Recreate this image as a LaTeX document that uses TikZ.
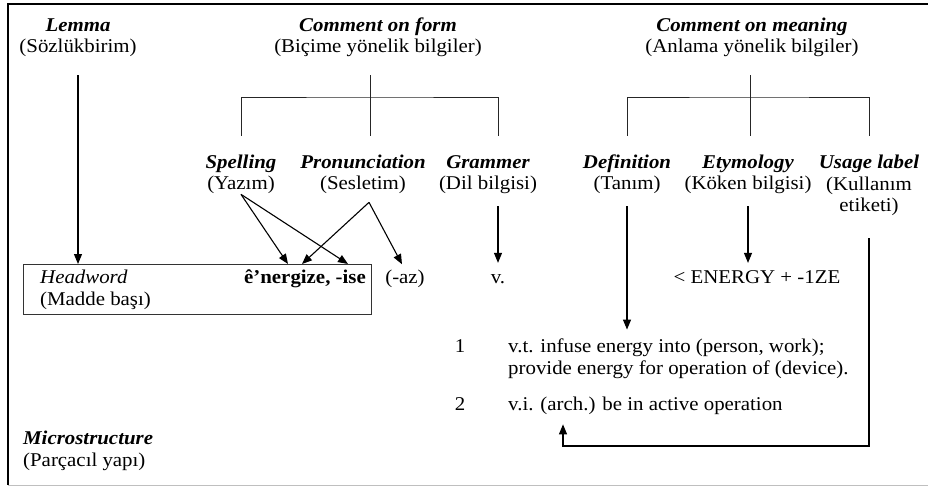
\documentclass[tikz,border=0pt]{standalone}
\usepackage{fontspec}
\setmainfont{Liberation Serif}[FakeStretch=1.07]
\usetikzlibrary{arrows.meta}

\newcommand{\term}[1]{{\bfseries\itshape #1}}

\tikzset{
    heading/.style = {
        align=center,
        inner sep=0pt,
        anchor=base
    },
    entry/.style = {
        inner sep=0pt,
        anchor=base
    },
    bracket/.style = {
        line width=0.9pt,
        black!85
    },
    pointer/.style = {
        line width=1.1pt,
        -{Triangle[length=10pt,width=8pt]}
    },
    hwframe/.style = {
        draw,
        line width=1.2pt,
        black!80,
        inner sep=0pt
    }
}

\begin{document}
\begin{tikzpicture}[x=1pt, y=-1pt, font=\fontsize{19.5}{21.5}\selectfont]
    \useasboundingbox (0,0) rectangle (928,486);

    % Frame
    \draw[line width=1.5pt] (928,4) -- (8,4) -- (8,485);
    \draw[black!25] (8,485) -- (928,485);

    % Draw top headings
    \node[heading] (lemma)   at (78,53)  {\term{Lemma}\\(Sözlükbirim)};
    \node[heading] (form)    at (378,53) {\term{Comment on form}\\(Biçime yönelik bilgiler)};
    \node[heading] (meaning) at (752,53) {\term{Comment on meaning}\\(Anlama yönelik bilgiler)};

    % Draw sub headings
    \node[heading] (spelling)      at (241,190) {\term{Spelling}\\(Yazım)};
    \node[heading] (pronunciation) at (363,190) {\term{Pronunciation}\\(Sesletim)};
    \node[heading] (grammer)       at (488,190) {\term{Grammer}\\(Dil bilgisi)};
    \node[heading] (definition)    at (627,190) {\term{Definition}\\(Tanım)};
    \node[heading] (etymology)     at (748,190) {\term{Etymology}\\(Köken bilgisi)};
    \node[heading] (usage)         at (869,212) {\term{Usage label}\\(Kullanım\\etiketi)};

    % Draw entry
    \node[hwframe, anchor=north west, minimum width=348pt, minimum height=50pt] (hwbox) at (23,264) {};
    \node[entry, anchor=base west, align=left] (headword) at (40,305) {\textit{Headword}\\(Madde başı)};
    \node[entry, anchor=base east] (lemmaform) at (366,283) {\bfseries ê’nergize, -ise};
    \node[entry] (az)     at (405,283) {(-az)};
    \node[entry] (pos)    at (498,283) {v.};
    \node[entry] (origin) at (757,283) {< ENERGY + -1ZE};
    \node[entry] (num1)   at (460,352) {1};
    \node[entry, anchor=base west, align=left] (sense1) at (508,374) {v.t. infuse energy into (person, work);\\provide energy for operation of (device).};
    \node[entry] (num2)   at (460,410) {2};
    \node[entry, anchor=base west] (sense2) at (508,410) {v.i. (arch.) be in active operation};
    \node[entry, anchor=base west, align=left] (micro) at (23,466) {\term{Microstructure}\\(Parçacıl yapı)};

    % Draw brackets
    \coordinate (formbar) at (370,97);
    \coordinate (meanbar) at (750,97);
    \coordinate (uturn)   at (563,446);
    \draw[bracket, shorten <=18pt, shorten >=19pt] (form.south -| formbar) -- (pronunciation.north -| formbar);
    \draw[bracket, shorten <=19pt, shorten >=19pt] (spelling.north) |- (formbar) -| ([xshift=10pt]grammer.north);
    \draw[bracket, shorten <=18pt, shorten >=19pt] (meaning.south -| meanbar) -- (etymology.north -| meanbar);
    \draw[bracket, shorten <=19pt, shorten >=19pt] (definition.north) |- (meanbar) -| (usage.north);

    % Draw arrows
    \draw[pointer, shorten <=18pt] (lemma.south) -- (lemma.south |- hwbox.north);
    \draw[pointer] (spelling.south) -- ([xshift=265pt]hwbox.north west);
    \draw[pointer] (spelling.south) -- ([xshift=325pt]hwbox.north west);
    \draw[pointer] ([shift={(6,8)}]pronunciation.south) -- ([xshift=279pt]hwbox.north west);
    \draw[pointer] ([shift={(6,8)}]pronunciation.south) -- ([shift={(-3,-5)}]az.north);
    \draw[pointer, shorten <=12pt, shorten >=11pt] (grammer.south -| pos.north) -- (pos.north);
    \draw[pointer, shorten <=12pt, shorten >=7pt] (etymology.south) -- (etymology.south |- origin.north);
    \draw[pointer, shorten <=12pt, shorten >=9pt] (definition.south) -- (definition.south |- sense1.north);
    \draw[pointer, shorten <=22pt, shorten >=10pt] (usage.south) |- (uturn) -- (uturn |- sense2.south);
\end{tikzpicture}
\end{document}
